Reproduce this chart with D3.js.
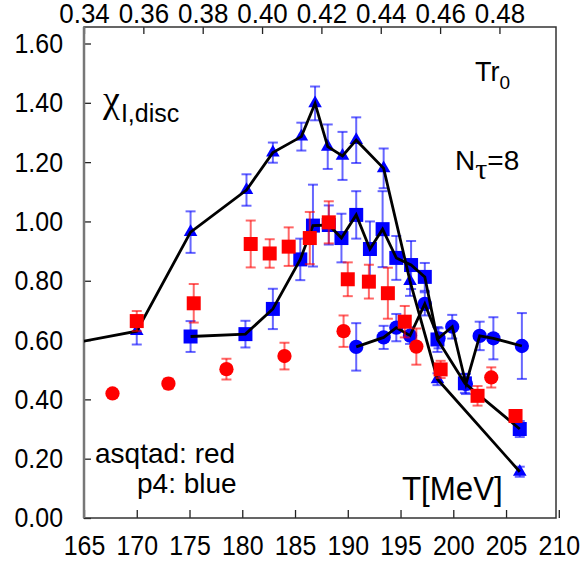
<!DOCTYPE html>
<meta charset="utf-8">
<script src="https://d3js.org/d3.v7.min.js"></script>
<style>
  body { margin: 0; background: #fff; }
  text { font-family: "Liberation Sans", Arial, Helvetica, sans-serif; fill: #000; }
  .greek { font-family: "Liberation Serif", "DejaVu Serif", serif; }
</style>
<div id="my_dataviz"></div>
<script>

  // p4 (blue) triangles, joined by a line; first point lies left of the frame
  var triT   = [160.0, 170.0, 175.1, 180.4, 182.9, 185.6, 186.9, 188.1, 189.5, 190.8, 193.4, 195.9, 198.5, 206.3];
  var triVal = [0.563, 0.630, 0.964, 1.106, 1.232, 1.286, 1.398, 1.252, 1.221, 1.274, 1.179, 0.799, 0.468, 0.156];
  var triErr = [0.045, 0.045, 0.070, 0.053, 0.034, 0.047, 0.057, 0.075, 0.081, 0.077, 0.067, 0.050, 0.020, 0.017];

  // p4 (blue) squares, joined by a line
  var sqT   = [175.1, 180.3, 182.9, 185.5, 186.7, 188.2, 189.4, 190.8, 192.1, 193.3, 194.6, 196.0, 197.3, 198.5, 201.1, 206.3];
  var sqVal = [0.612, 0.620, 0.705, 0.872, 0.986, 0.988, 0.944, 1.022, 0.907, 0.974, 0.877, 0.853, 0.813, 0.602, 0.454, 0.300];
  var sqErr = [0.052, 0.045, 0.068, 0.070, 0.138, 0.066, 0.082, 0.080, 0.093, 0.128, 0.074, 0.081, 0.047, 0.042, 0.032, 0.027];

  // p4 (blue) circles, joined by a line
  var ciT   = [190.8, 193.4, 194.6, 195.9, 197.3, 198.6, 199.9, 201.2, 202.5, 203.8, 206.5];
  var ciVal = [0.577, 0.609, 0.642, 0.615, 0.722, 0.606, 0.645, 0.452, 0.614, 0.606, 0.580];
  var ciErr = [0.080, 0.039, 0.046, 0.028, 0.039, 0.034, 0.040, 0.034, 0.048, 0.071, 0.111];

  // asqtad (red) squares
  var rsqT   = [170.0, 175.4, 180.8, 182.6, 184.4, 186.4, 188.2, 190.0, 192.0, 193.8, 195.4, 198.8, 202.3, 205.9];
  var rsqVal = [0.664, 0.724, 0.924, 0.892, 0.915, 0.944, 0.997, 0.805, 0.797, 0.758, 0.662, 0.501, 0.412, 0.344];
  var rsqErr = [0.034, 0.065, 0.079, 0.048, 0.065, 0.088, 0.071, 0.057, 0.057, 0.086, 0.053, 0.029, 0.033, 0.017];

  // asqtad (red) circles
  var rciT   = [167.7, 173.0, 178.5, 184.0, 189.6, 196.5, 203.6];
  var rciVal = [0.420, 0.453, 0.502, 0.546, 0.630, 0.578, 0.474];
  var rciErr = [0.013, 0.017, 0.035, 0.045, 0.053, 0.061, 0.034];

  var xTicks = [165, 170, 175, 180, 185, 190, 195, 200, 205, 210];
  var yTicks = [0, 0.2, 0.4, 0.6, 0.8, 1.0, 1.2, 1.4, 1.6];
  var topTicks = [0.34, 0.36, 0.38, 0.40, 0.42, 0.44, 0.46, 0.48];

  ////////////////////// geometry ////////////////////////////
  var width = 587, height = 565;
  var pLeft = 84, pRight = 556, pTop = 27, pBottom = 518;

  var x = d3.scaleLinear().domain([165, 210]).range([pLeft, 558.8]);
  var xTop = d3.scaleLinear().domain([0.34, 0.50]).range([pLeft, 558.8]);
  var y = d3.scaleLinear().domain([0, 1.6]).range([pBottom, 43.5]);

  var svg = d3.select('#my_dataviz')
    .append('svg')
    .attr('width', width)
    .attr('height', height);

  svg.append('defs').append('clipPath').attr('id', 'clip')
    .append('rect')
    .attr('x', pLeft).attr('y', pTop)
    .attr('width', pRight - pLeft).attr('height', pBottom - pTop);

  // squeeze text a little, the original font is narrower
  function squeeze(sel, f) {
    sel.each(function() {
      var w = this.getComputedTextLength();
      d3.select(this).attr('textLength', w * f).attr('lengthAdjust', 'spacingAndGlyphs');
    });
  }

  ////////////////////// axes ////////////////////////////
  var gx = svg.append('g')
    .attr('transform', 'translate(0,' + pBottom + ')')
    .call(d3.axisBottom(x).tickValues(xTicks).tickSize(-8).tickPadding(17).tickFormat(d3.format('d')));

  var gy = svg.append('g')
    .attr('transform', 'translate(' + pLeft + ',0)')
    .call(d3.axisLeft(y).tickValues(yTicks).tickSize(-7).tickPadding(21).tickFormat(d3.format('.2f')));

  var gt = svg.append('g')
    .attr('transform', 'translate(0,' + pTop + ')')
    .call(d3.axisTop(xTop).tickValues(topTicks).tickSize(-7).tickPadding(4).tickFormat(d3.format('.2f')));

  [gx, gy, gt].forEach(function(g) {
    g.select('.domain').remove();
    g.selectAll('.tick line').attr('stroke', '#222').attr('stroke-width', 1.3);
    g.selectAll('.tick text').style('font-size', '28px').attr('fill', '#000');
  });
  gt.selectAll('.tick text').style('font-size', '27px');
  squeeze(gx.selectAll('.tick text'), 0.89);
  squeeze(gy.selectAll('.tick text'), 0.89);
  squeeze(gt.selectAll('.tick text'), 0.96);

  // frame
  svg.append('rect')
    .attr('x', pLeft).attr('y', pTop)
    .attr('width', pRight - pLeft).attr('height', pBottom - pTop)
    .attr('fill', 'none')
    .attr('stroke', '#333')
    .attr('stroke-width', 1.5);
  svg.append('line')
    .attr('x1', pLeft).attr('x2', pLeft).attr('y1', pTop).attr('y2', pBottom)
    .attr('stroke', '#777').attr('stroke-width', 2.5);

  ////////////////////// data ////////////////////////////
  var plot = svg.append('g').attr('clip-path', 'url(#clip)');

  function rows(ts, vs, es) {
    return ts.map(function(t, i) { return {t: t, v: vs[i], e: es[i]}; });
  }
  var tri = rows(triT, triVal, triErr);
  var sq = rows(sqT, sqVal, sqErr);
  var ci = rows(ciT, ciVal, ciErr);
  var rsq = rows(rsqT, rsqVal, rsqErr);
  var rci = rows(rciT, rciVal, rciErr);

  function errorBars(data, color) {
    var g = plot.append('g')
      .attr('stroke', color)
      .attr('stroke-opacity', 0.6)
      .attr('stroke-width', 2);
    var bar = g.selectAll('g').data(data).enter().append('g');
    bar.append('line')
      .attr('x1', function(d) { return x(d.t); })
      .attr('x2', function(d) { return x(d.t); })
      .attr('y1', function(d) { return y(d.v + d.e); })
      .attr('y2', function(d) { return y(d.v - d.e); });
    [1, -1].forEach(function(s) {
      bar.append('line')
        .attr('x1', function(d) { return x(d.t) - 5; })
        .attr('x2', function(d) { return x(d.t) + 5; })
        .attr('y1', function(d) { return y(d.v + s * d.e); })
        .attr('y2', function(d) { return y(d.v + s * d.e); });
    });
  }

  function markers(data, color, shape, size) {
    plot.append('g').selectAll('path').data(data).enter()
      .append('path')
      .attr('d', d3.symbol().type(shape).size(size))
      .attr('transform', function(d) { return 'translate(' + x(d.t) + ',' + y(d.v) + ')'; })
      .attr('fill', color);
  }

  var line = d3.line()
    .x(function(d) { return x(d.t); })
    .y(function(d) { return y(d.v); });

  // blue (p4)
  errorBars(tri, '#0000ff');
  errorBars(sq, '#0000ff');
  errorBars(ci, '#0000ff');
  markers(ci, '#0000ff', d3.symbolCircle, 160);
  markers(sq, '#0000ff', d3.symbolSquare, 196);
  markers(tri, '#0000ff', d3.symbolTriangle, 80);

  [tri, sq, ci].forEach(function(s) {
    plot.append('path')
      .datum(s)
      .attr('d', line)
      .attr('fill', 'none')
      .attr('stroke', '#000')
      .attr('stroke-width', 2.8)
      .attr('stroke-linejoin', 'miter');
  });

  // red (asqtad)
  errorBars(rsq, '#ff0000');
  errorBars(rci, '#ff0000');
  markers(rci, '#ff0000', d3.symbolCircle, 160);
  markers(rsq, '#ff0000', d3.symbolSquare, 196);

  ////////////////////// labels ////////////////////////////
  var chi = svg.append('text').attr('x', 103).attr('y', 112).style('font-size', '38px');
  chi.append('tspan').attr('class', 'greek').text('χ');
  chi.append('tspan').attr('dx', 1).attr('dy', 10).style('font-size', '25px').text('I,disc');

  var tr = svg.append('text').attr('x', 475).attr('y', 81).style('font-size', '27px');
  tr.append('tspan').text('Tr');
  tr.append('tspan').attr('dy', 8).style('font-size', '19px').text('0');

  var nt = svg.append('text').attr('x', 455).attr('y', 170).style('font-size', '28px');
  nt.append('tspan').text('N');
  nt.append('tspan').attr('class', 'greek').attr('dy', 9).style('font-size', '30px').text('τ');
  nt.append('tspan').attr('dy', -9).text('=8');

  svg.append('text').attr('x', 95).attr('y', 463).style('font-size', '28px').text('asqtad: red');
  svg.append('text').attr('x', 137).attr('y', 493).style('font-size', '28px').text('p4: blue');

  var tl = svg.append('text').attr('x', 402).attr('y', 500).style('font-size', '34px').text('T[MeV]');
  squeeze(tl, 0.92);

</script>
